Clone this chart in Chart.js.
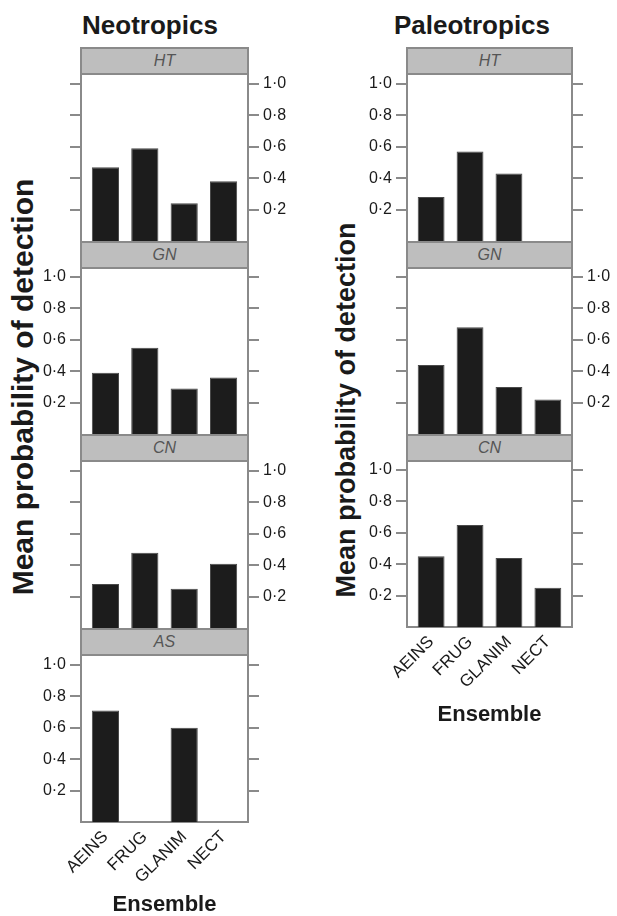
<!DOCTYPE html>
<html>
<head>
<meta charset="utf-8">
<script src="https://cdn.jsdelivr.net/npm/chart.js"></script>
<style>
  body { margin: 0; background: #fff; }
  #fig { position: relative; width: 617px; height: 916px; font-family: "Liberation Sans", Arial, sans-serif; color: #1a1a1a; }
  #fig canvas { position: absolute; }
  .strip { position: absolute; box-sizing: border-box; background: #bebebe; border: 2px solid #8a8a8a;
           color: #555; font-style: italic; font-size: 16px; line-height: 24px; text-align: center; }
  .title { position: absolute; font-weight: bold; font-size: 26px; line-height: 26px; white-space: nowrap; transform: translateX(-50%); }
  .ylab { position: absolute; font-weight: bold; white-space: nowrap;
          transform: translate(-50%, -50%) rotate(-90deg); }
</style>
</head>
<body>
<div id="fig"></div>
<script>
const categories = ['AEINS', 'FRUG', 'GLANIM', 'NECT'];
const yTicks = [0.2, 0.4, 0.6, 0.8, 1.0];

// Neotropics
const neoHT = [0.47, 0.59, 0.24, 0.38];
const neoGN = [0.39, 0.55, 0.29, 0.36];
const neoCN = [0.28, 0.48, 0.25, 0.41];
const neoAS = [0.71, null, 0.60, null];

// Paleotropics
const paleoHT = [0.28, 0.57, 0.43, null];
const paleoGN = [0.44, 0.68, 0.30, 0.22];
const paleoCN = [0.45, 0.65, 0.44, 0.25];

const FONT = '"Liberation Sans", Arial, sans-serif';
const FRAME = '#8a8a8a';
const fig = document.getElementById('fig');

const columns = [
  { title: 'Neotropics', titleX: 150, left: 81, right: 248, ylabX: 23, ylabY: 387, ylabSize: 30,
    tops: [47, 241, 434, 628], bottom: 822, xAxisH: 96,
    panels: [['HT', neoHT, 'right'], ['GN', neoGN, 'left'], ['CN', neoCN, 'right'], ['AS', neoAS, 'left']] },
  { title: 'Paleotropics', titleX: 472, left: 407, right: 572, ylabX: 346, ylabY: 410, ylabSize: 27,
    tops: [47, 241, 434], bottom: 627, xAxisH: 101,
    panels: [['HT', paleoHT, 'left'], ['GN', paleoGN, 'right'], ['CN', paleoCN, 'left']] }
];

function addDiv(cls, text, css) {
  const d = document.createElement('div');
  d.className = cls;
  d.textContent = text;
  Object.assign(d.style, css);
  fig.appendChild(d);
  return d;
}

function yScale(pos, showLabels, ymax, AX) {
  return {
    type: 'linear', position: pos, min: 0, max: ymax,
    afterBuildTicks: s => { s.ticks = yTicks.map(v => ({ value: v })); },
    afterFit: s => { s.width = AX; },
    grid: { drawOnChartArea: false, drawTicks: true, tickLength: 11, color: FRAME, lineWidth: 2 },
    border: { display: true, color: FRAME, width: 2 },
    ticks: { display: showLabels, padding: 4, color: '#1a1a1a', font: { size: 16, family: FONT },
             callback: v => v.toFixed(1).replace('.', '·') }
  };
}

function makePanel(col, panel, i) {
  const [name, values, side] = panel;
  const last = i === col.panels.length - 1;
  const stripH = 27, AX = 60, PAD = 16;
  const top = col.tops[i];
  const plotTop = top + stripH;
  const plotBottom = last ? col.bottom : col.tops[i + 1];
  const plotH = plotBottom - plotTop;
  const w = col.right - col.left;
  const xH = last ? col.xAxisH : 0;

  const cv = document.createElement('canvas');
  cv.width = w + 2 * AX;
  cv.height = plotH + PAD + (last ? xH : PAD);
  cv.style.left = (col.left - AX) + 'px';
  cv.style.top = (plotTop - PAD) + 'px';
  fig.appendChild(cv);

  addDiv('strip', name, { left: (col.left - 1) + 'px', top: top + 'px', width: (w + 2) + 'px', height: (stripH + 1) + 'px' });

  const ymax = plotH / 157;
  new Chart(cv, {
    type: 'bar',
    data: {
      datasets: [{
        data: values.map((v, k) => ({ x: k, y: v })),
        backgroundColor: '#1c1c1c',
        borderColor: '#4a4a4a',
        borderWidth: 1,
        categoryPercentage: 1,
        barPercentage: 0.69
      }]
    },
    options: {
      responsive: false,
      animation: false,
      devicePixelRatio: 1,
      layout: { padding: { top: PAD, bottom: last ? 0 : PAD, left: 0, right: 0 } },
      plugins: { legend: { display: false }, tooltip: { enabled: false } },
      scales: {
        x: {
          type: 'linear', min: -0.62, max: 3.62, offset: false, display: last,
          afterBuildTicks: s => { s.ticks = categories.map((c, k) => ({ value: k })); },
          afterFit: s => { s.height = xH; },
          grid: { display: false, drawTicks: false },
          border: { display: true, color: FRAME, width: 2 },
          ticks: { autoSkip: false, minRotation: 45, maxRotation: 45, padding: 5, color: '#1a1a1a',
                   font: { size: 17, family: FONT }, callback: v => categories[v] },
          title: { display: true, text: 'Ensemble', color: '#1a1a1a', padding: 0,
                   font: { size: 22, weight: 'bold', family: FONT } }
        },
        y: yScale('left', side === 'left', ymax, AX),
        y2: yScale('right', side === 'right', ymax, AX)
      }
    }
  });
}

columns.forEach(col => {
  addDiv('title', col.title, { left: col.titleX + 'px', top: '12px' });
  addDiv('ylab', 'Mean probability of detection', { left: col.ylabX + 'px', top: col.ylabY + 'px',
    fontSize: col.ylabSize + 'px', lineHeight: col.ylabSize + 'px' });
  col.panels.forEach((p, i) => makePanel(col, p, i));
});
</script>
</body>
</html>
